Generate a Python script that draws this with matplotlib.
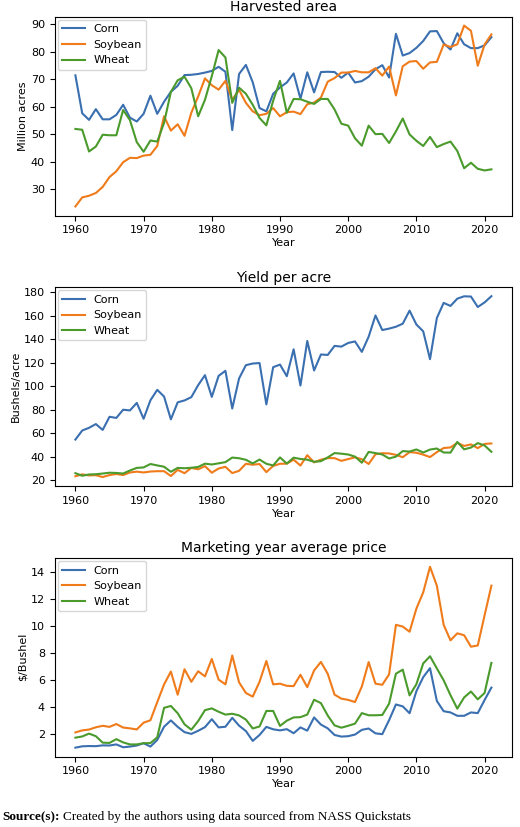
import numpy as np
import matplotlib.pyplot as plt

years = np.arange(1960, 2022)

corn_area = [71.4,57.6,55.2,59.1,55.4,55.4,57.0,60.7,56.0,54.6,57.4,64.0,57.4,61.8,65.4,67.6,71.5,71.6,71.9,72.4,73.0,74.5,72.7,51.5,71.9,75.2,68.9,59.5,58.3,64.7,67.0,68.8,72.1,62.9,72.5,65.2,72.6,72.7,72.6,70.5,72.4,68.8,69.3,70.9,73.6,75.1,70.6,86.5,78.6,79.5,81.4,83.9,87.4,87.5,83.1,80.8,86.7,82.7,81.3,81.3,82.3,85.3]
soy_area = [23.7,27.0,27.6,28.6,30.8,34.4,36.5,39.8,41.4,41.3,42.2,42.5,45.7,56.5,51.3,53.6,49.4,57.8,63.7,70.3,67.8,66.2,69.4,62.5,66.1,61.4,58.3,56.9,57.4,59.5,56.5,58.0,58.2,57.3,60.9,61.5,63.3,69.1,70.4,72.4,72.4,73.0,72.5,72.5,74.0,71.3,74.6,64.1,74.7,76.4,76.6,73.8,76.1,76.3,82.6,81.7,82.7,89.5,87.6,74.9,82.6,86.3]
wheat_area = [51.9,51.6,43.7,45.5,49.8,49.6,49.6,58.8,55.1,47.1,43.6,47.7,47.3,54.1,65.4,69.6,70.9,66.7,56.5,62.5,71.1,80.6,77.9,61.4,66.9,64.7,60.7,55.9,53.2,62.2,69.4,57.8,62.8,62.7,61.8,61.0,62.8,62.8,59.0,53.8,53.1,48.5,45.8,53.1,50.0,50.1,46.8,51.0,55.7,49.9,47.6,45.7,49.0,45.3,46.4,47.3,43.9,37.6,39.6,37.4,36.8,37.2]

corn_yield = [54.7,62.4,64.7,67.9,62.9,74.1,73.1,80.1,79.5,85.9,72.4,88.1,97.0,91.3,71.9,86.4,88.0,90.8,101.0,109.5,91.0,108.9,113.2,81.1,106.7,118.0,119.4,119.8,84.6,116.3,118.5,108.6,131.5,100.7,138.6,113.5,127.1,126.7,134.4,133.8,136.9,138.2,129.3,142.2,160.3,147.9,149.1,150.7,153.3,164.4,152.6,146.8,123.1,158.1,171.0,168.4,174.6,176.6,176.4,167.5,171.4,176.7]
soy_yield = [23.5,25.1,24.2,24.4,22.8,24.5,25.4,24.5,26.7,27.4,26.7,27.5,27.8,27.8,23.7,28.9,26.1,30.6,29.4,32.1,26.5,30.1,31.5,26.2,28.1,34.1,33.3,33.9,27.0,32.3,34.1,34.2,37.6,32.6,41.4,35.3,37.6,38.9,38.9,36.6,38.1,39.6,38.0,33.9,42.2,43.1,42.9,41.7,39.7,44.0,43.5,41.9,39.8,44.0,47.5,48.0,51.9,49.3,50.6,47.4,51.0,51.4]
wheat_yield = [26.1,23.9,25.0,25.2,25.8,26.5,26.3,25.8,28.4,30.6,31.0,33.9,32.7,31.6,27.3,30.6,30.3,30.7,31.4,34.2,33.5,34.5,35.5,39.4,38.8,37.5,34.4,37.7,34.1,32.7,39.5,34.3,39.3,38.2,37.6,35.8,36.3,39.5,43.2,42.7,42.0,40.2,35.0,44.2,43.2,42.0,38.6,40.2,44.9,44.5,46.3,43.7,46.2,47.1,43.7,43.6,52.7,46.4,47.9,51.7,49.7,44.3]

corn_price = [1.00,1.10,1.12,1.11,1.17,1.16,1.24,1.03,1.08,1.16,1.33,1.08,1.57,2.55,3.02,2.54,2.15,2.02,2.25,2.52,3.11,2.50,2.55,3.21,2.63,2.23,1.50,1.94,2.54,2.36,2.28,2.37,2.07,2.50,2.26,3.24,2.71,2.43,1.94,1.82,1.85,1.97,2.32,2.42,2.06,2.00,3.04,4.20,4.06,3.55,5.18,6.22,6.89,4.46,3.70,3.61,3.36,3.36,3.61,3.56,4.53,5.45]
soy_price = [2.13,2.28,2.34,2.51,2.62,2.54,2.75,2.49,2.43,2.35,2.85,3.03,4.37,5.68,6.64,4.92,6.81,5.88,6.66,6.28,7.57,6.04,5.69,7.83,5.84,5.05,4.78,5.88,7.42,5.69,5.74,5.58,5.56,6.40,5.48,6.72,7.35,6.47,4.93,4.63,4.54,4.38,5.53,7.34,5.74,5.66,6.43,10.10,9.97,9.59,11.30,12.50,14.40,13.00,10.10,8.95,9.47,9.33,8.48,8.57,10.80,13.00]
wheat_price = [1.74,1.83,2.04,1.85,1.37,1.35,1.63,1.39,1.24,1.24,1.33,1.34,1.76,3.95,4.09,3.55,2.73,2.33,2.97,3.78,3.91,3.66,3.45,3.51,3.39,3.08,2.42,2.57,3.72,3.72,2.61,3.00,3.24,3.26,3.45,4.55,4.30,3.38,2.65,2.48,2.62,2.78,3.56,3.40,3.40,3.42,4.26,6.48,6.78,4.87,5.70,7.24,7.77,6.87,5.99,4.89,3.89,4.72,5.16,4.58,5.05,7.28]

panels = [
    ("Harvested area", "Million acres", corn_area, soy_area, wheat_area),
    ("Yield per acre", "Bushels/acre", corn_yield, soy_yield, wheat_yield),
    ("Marketing year average price", "$/Bushel", corn_price, soy_price, wheat_price),
]

fig, axes = plt.subplots(3, 1, figsize=(5.2, 8.27), dpi=100)
for ax, (title, ylabel, c, s, w) in zip(axes, panels):
    ax.plot(years, c, color="#3a6fb0", lw=1.5, label="Corn")
    ax.plot(years, s, color="#ef7b1a", lw=1.5, label="Soybean")
    ax.plot(years, w, color="#4a9a2c", lw=1.5, label="Wheat")
    ax.set_title(title, fontsize=10, pad=4)
    ax.set_xlabel("Year", fontsize=8, labelpad=2)
    ax.set_ylabel(ylabel, fontsize=8, labelpad=2)
    ax.tick_params(labelsize=8)
    ax.legend(loc="upper left", fontsize=8, borderaxespad=0.3)
    ax.set_xticks([1960, 1970, 1980, 1990, 2000, 2010, 2020])

axes[0].set_yticks([30, 40, 50, 60, 70, 80, 90])
axes[1].set_yticks([20, 40, 60, 80, 100, 120, 140, 160, 180])
axes[2].set_yticks([2, 4, 6, 8, 10, 12, 14])

fig.subplots_adjust(left=0.105, right=0.985, top=0.98, bottom=0.085, hspace=0.36)

# source line: bold label followed by plain text
lab = fig.text(0.004, 0.008, "Source(s):", fontsize=9.5, family="Liberation Serif", weight="bold")
fig.canvas.draw()
bb = lab.get_window_extent().transformed(fig.transFigure.inverted())
fig.text(bb.x1 + 0.006, 0.008, "Created by the authors using data sourced from NASS Quickstats",
         fontsize=9.5, family="Liberation Serif")
fig.savefig("out.png")
